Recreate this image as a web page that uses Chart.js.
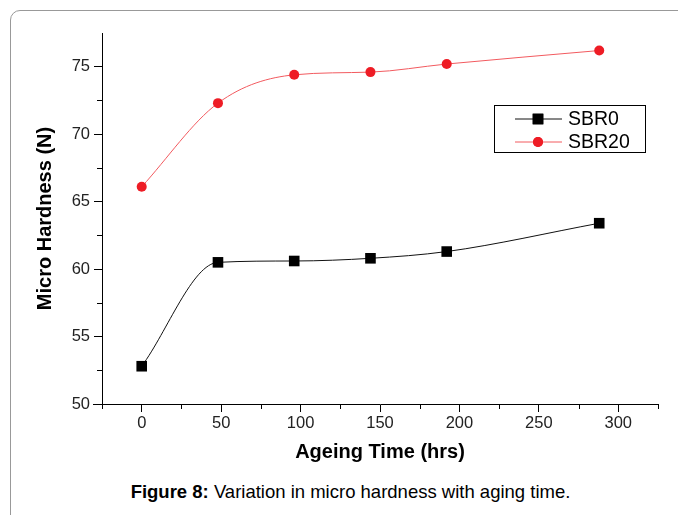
<!DOCTYPE html>
<html>
<head>
<meta charset="utf-8">
<script src="https://cdn.jsdelivr.net/npm/chart.js@4"></script>
<style>
    html, body { margin: 0; padding: 0; background: #fff; }
    body { width: 678px; height: 515px; position: relative; overflow: hidden; font-family: "Liberation Sans", Arial, sans-serif; }
    #frame { position: absolute; left: 10px; top: 10px; width: 720px; height: 600px; border: 1px solid #999; border-radius: 10px; }
    #wrap { position: absolute; left: 0; top: 0; width: 678px; height: 470px; }
    #caption { position: absolute; left: 0; top: 481px; width: 701px; text-align: center; font-size: 18.5px; color: #000; white-space: nowrap; }
</style>
</head>
<body>
<div id="frame"></div>
<div id="wrap"><canvas id="hardnessChart"></canvas></div>
<div id="caption"><b>Figure 8:</b> Variation in micro hardness with aging time.</div>

<script>
// values
const hours = [0, 48, 96, 144, 192, 288];
const sbr0 = [52.8, 60.5, 60.6, 60.8, 61.3, 63.4];
const sbr20 = [66.1, 72.3, 74.4, 74.6, 75.2, 76.2];
const seriesNames = ['SBR0', 'SBR20'];

const xMin = -25, xMax = 325, xMajor = 50;
const yMin = 50, yMax = 77.5, yMajor = 5;

const TICK_FONT = { family: '"Liberation Sans", Arial, sans-serif', size: 16.5 };
const TITLE_FONT = { family: '"Liberation Sans", Arial, sans-serif', size: 20, weight: 'bold' };

const isMajor = (v, step) => Math.abs(v % step) < 1e-6;

// minor ticks, the left overhang of the x axis line, and the boxed legend
const axisExtras = {
    id: 'axisExtras',
    afterDraw(chart) {
        const { ctx, scales: { x, y }, chartArea } = chart;
        ctx.save();
        ctx.strokeStyle = '#000';
        ctx.lineWidth = 1;
        ctx.beginPath();
        for (let v = xMin; v <= xMax; v += xMajor / 2) {
            if (isMajor(v, xMajor)) continue;
            const px = Math.round(x.getPixelForValue(v)) + 0.5;
            ctx.moveTo(px, chartArea.bottom);
            ctx.lineTo(px, chartArea.bottom + 5);
        }
        for (let v = yMin; v < yMax; v += yMajor / 2) {
            if (isMajor(v, yMajor)) continue;
            const py = Math.round(y.getPixelForValue(v)) + 0.5;
            ctx.moveTo(chartArea.left, py);
            ctx.lineTo(chartArea.left - 5, py);
        }
        const by = Math.round(chartArea.bottom) + 0.5;
        ctx.moveTo(chartArea.left - 9, by);
        ctx.lineTo(chartArea.left, by);
        ctx.stroke();

        // legend box
        const bx = 494.5, bt = 105.5, bw = 151, bh = 47;
        ctx.strokeRect(bx, bt, bw, bh);
        ctx.font = '19.5px "Liberation Sans", Arial, sans-serif';
        ctx.textBaseline = 'middle';
        chart.data.datasets.forEach((ds, i) => {
            const ly = 119 + i * 23;
            ctx.strokeStyle = ds.borderColor;
            ctx.beginPath();
            ctx.moveTo(515, ly);
            ctx.lineTo(562, ly);
            ctx.stroke();
            ctx.fillStyle = ds.pointBackgroundColor;
            Chart.helpers.drawPoint(ctx, { pointStyle: ds.pointStyle, radius: ds.pointRadius, borderWidth: 0 }, 538, ly);
            ctx.fill();
            ctx.fillStyle = '#000';
            ctx.fillText(ds.label, 568, ly + 1);
        });
        ctx.restore();
    }
};

const ctx = document.getElementById('hardnessChart').getContext('2d');
new Chart(ctx, {
    type: 'line',
    data: {
        datasets: [
            {
                label: seriesNames[0],
                data: hours.map((h, i) => ({ x: h, y: sbr0[i] })),
                borderColor: '#111',
                borderWidth: 1,
                pointStyle: 'rect',
                pointRadius: 7.5,
                pointBackgroundColor: '#000',
                pointBorderWidth: 0,
                cubicInterpolationMode: 'monotone'
            },
            {
                label: seriesNames[1],
                data: hours.map((h, i) => ({ x: h, y: sbr20[i] })),
                borderColor: '#f25a5f',
                borderWidth: 1,
                pointStyle: 'circle',
                pointRadius: 5,
                pointBackgroundColor: '#ee1c25',
                pointBorderWidth: 0,
                cubicInterpolationMode: 'monotone'
            }
        ]
    },
    options: {
        responsive: true,
        maintainAspectRatio: false,
        animation: false,
        layout: { padding: { left: 33, top: 33, right: 20, bottom: 0 } },
        plugins: {
            legend: { display: false },
            tooltip: { enabled: false }
        },
        scales: {
            x: {
                type: 'linear',
                min: xMin,
                max: xMax,
                afterFit: s => { s.height = 66; },
                grid: {
                    drawOnChartArea: false,
                    tickLength: 8,
                    color: c => (c.tick && isMajor(c.tick.value, xMajor) ? '#000' : 'rgba(0,0,0,0)')
                },
                border: { color: '#000', width: 1 },
                ticks: {
                    stepSize: xMajor / 2,
                    autoSkip: false,
                    maxRotation: 0,
                    padding: 2,
                    color: '#222',
                    font: TICK_FONT,
                    callback: v => (isMajor(v, xMajor) ? v : '')
                },
                title: { display: true, text: 'Ageing Time (hrs)', color: '#000', font: TITLE_FONT, padding: { top: 0, bottom: 6 } }
            },
            y: {
                min: yMin,
                max: yMax,
                afterFit: s => { s.width = 69; },
                grid: {
                    drawOnChartArea: false,
                    tickLength: 8,
                    color: c => (c.tick && isMajor(c.tick.value, yMajor) ? '#000' : 'rgba(0,0,0,0)')
                },
                border: { color: '#000', width: 1 },
                ticks: {
                    stepSize: yMajor,
                    padding: 4,
                    color: '#222',
                    font: TICK_FONT,
                    callback: v => (isMajor(v, yMajor) ? v : '')
                },
                title: { display: true, text: 'Micro Hardness (N)', color: '#000', font: TITLE_FONT, padding: 0 }
            }
        }
    },
    plugins: [axisExtras]
});
</script>
</body>
</html>
